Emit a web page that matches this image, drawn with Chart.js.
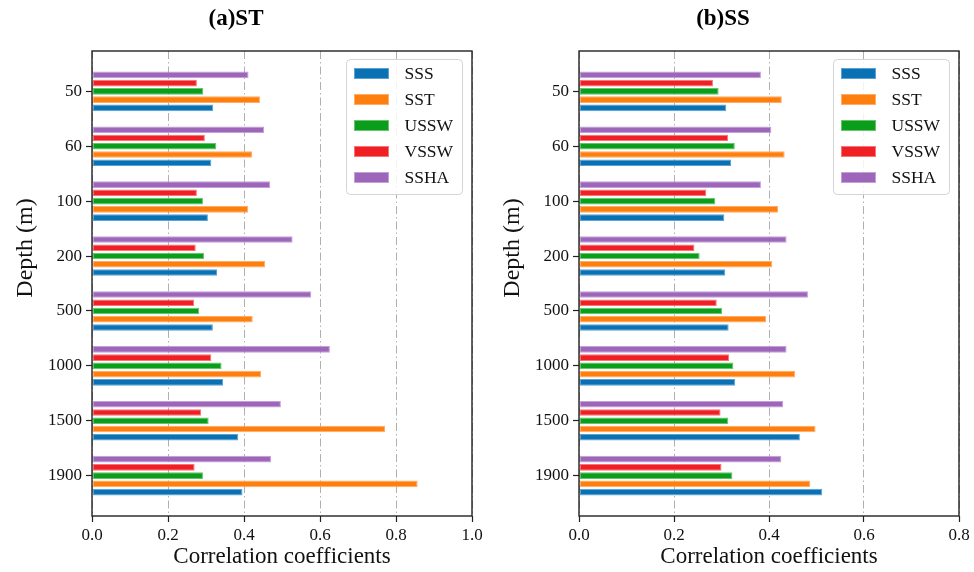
<!DOCTYPE html>
<html>
<head>
<meta charset="utf-8">
<script src="https://cdn.jsdelivr.net/npm/chart.js@4.4.1/dist/chart.umd.min.js"></script>
<style>
  html, body { margin: 0; padding: 0; background: #ffffff; }
  #wrap { position: relative; width: 974px; height: 572px; }
  canvas { position: absolute; top: 0; }
  #cST { left: 0; }
  #cSS { left: 487px; }
</style>
</head>
<body>
<div id="wrap">
  <canvas id="cST" width="487" height="572"></canvas>
  <canvas id="cSS" width="487" height="572"></canvas>
</div>
<script>
// Depth levels (m), top to bottom
const depths = ['50', '60', '100', '200', '500', '1000', '1500', '1900'];
const xTicksST = [0.0, 0.2, 0.4, 0.6, 0.8, 1.0];
const xTicksSS = [0.0, 0.2, 0.4, 0.6, 0.8];

// (a) ST: correlation coefficients per predictor
const stSSS  = [0.319, 0.314, 0.305, 0.329, 0.318, 0.345, 0.385, 0.396];
const stSST  = [0.442, 0.421, 0.411, 0.456, 0.423, 0.445, 0.771, 0.857];
const stUSSW = [0.293, 0.327, 0.292, 0.295, 0.282, 0.341, 0.307, 0.292];
const stVSSW = [0.276, 0.297, 0.276, 0.273, 0.269, 0.314, 0.287, 0.270];
const stSSHA = [0.412, 0.453, 0.469, 0.528, 0.577, 0.626, 0.497, 0.471];

// (b) SS: correlation coefficients per predictor
const ssSSS  = [0.310, 0.320, 0.306, 0.308, 0.315, 0.329, 0.465, 0.512];
const ssSST  = [0.427, 0.433, 0.419, 0.407, 0.394, 0.455, 0.498, 0.487];
const ssUSSW = [0.294, 0.328, 0.287, 0.254, 0.301, 0.325, 0.314, 0.323];
const ssVSSW = [0.282, 0.314, 0.268, 0.243, 0.290, 0.316, 0.298, 0.300];
const ssSSHA = [0.383, 0.405, 0.383, 0.437, 0.482, 0.437, 0.430, 0.426];

const seriesNames = ['SSS', 'SST', 'USSW', 'VSSW', 'SSHA'];
const seriesColors = {
  SSS:  '#0a72b4',
  SST:  '#ff7f0e',
  USSW: '#0a9e1a',
  VSSW: '#f01f24',
  SSHA: '#9d66bb'
};
const seriesEdges = {
  SSS:  '#5aa2d2',
  SST:  '#ffac66',
  USSW: '#66c470',
  VSSW: '#f77478',
  SSHA: '#c3a0d6'
};

const SERIF = "'Liberation Serif', 'DejaVu Serif', serif";

function toPoints(values) {
  return values.map((v, i) => ({ x: v, y: i }));
}

// Build datasets so that SSHA sits on top of each group and SSS at the bottom
function buildDatasets(map) {
  return seriesNames.slice().reverse().map(name => ({
    label: name,
    data: toPoints(map[name]),
    backgroundColor: seriesColors[name],
    borderColor: seriesEdges[name],
    borderWidth: 1,
    borderSkipped: false,
    categoryPercentage: 0.751,
    barPercentage: 0.8
  }));
}

// Black box around the plotting area, plus the vertical depth label
const framePlugin = {
  id: 'frame',
  afterDraw(chart) {
    const a = chart.chartArea, ctx = chart.ctx;
    ctx.save();
    ctx.strokeStyle = '#222222';
    ctx.lineWidth = 1.4;
    ctx.strokeRect(a.left, a.top, a.right - a.left, a.bottom - a.top);
    ctx.translate(26, 248);
    ctx.rotate(-Math.PI / 2);
    ctx.fillStyle = '#111111';
    ctx.font = '24px ' + SERIF;
    ctx.textAlign = 'center';
    ctx.textBaseline = 'middle';
    ctx.fillText('Depth (m)', 0, 0);
    ctx.restore();
  }
};

// Legend box in the upper-right corner of the plotting area
const boxLegendPlugin = {
  id: 'boxLegend',
  afterDraw(chart) {
    const a = chart.chartArea, ctx = chart.ctx;
    const items = chart.data.datasets.slice().reverse();
    const w = 116, h = 135;
    const x0 = a.right - 9.5 - w, y0 = a.top + 8.5;
    ctx.save();
    ctx.beginPath();
    const r = 4;
    ctx.moveTo(x0 + r, y0);
    ctx.lineTo(x0 + w - r, y0);
    ctx.quadraticCurveTo(x0 + w, y0, x0 + w, y0 + r);
    ctx.lineTo(x0 + w, y0 + h - r);
    ctx.quadraticCurveTo(x0 + w, y0 + h, x0 + w - r, y0 + h);
    ctx.lineTo(x0 + r, y0 + h);
    ctx.quadraticCurveTo(x0, y0 + h, x0, y0 + h - r);
    ctx.lineTo(x0, y0 + r);
    ctx.quadraticCurveTo(x0, y0, x0 + r, y0);
    ctx.closePath();
    ctx.fillStyle = 'rgba(255,255,255,0.85)';
    ctx.fill();
    ctx.strokeStyle = '#d4d4d4';
    ctx.lineWidth = 1;
    ctx.stroke();
    ctx.font = '17.5px ' + SERIF;
    ctx.textBaseline = 'middle';
    ctx.textAlign = 'left';
    items.forEach((ds, i) => {
      const cy = y0 + 14 + i * 26;
      ctx.fillStyle = ds.borderColor;
      ctx.fillRect(x0 + 7.5, cy - 5.5, 35, 11);
      ctx.fillStyle = ds.backgroundColor;
      ctx.fillRect(x0 + 8.5, cy - 4.5, 33, 9);
      ctx.fillStyle = '#111111';
      ctx.fillText(ds.label, x0 + 58, cy + 1);
    });
    ctx.restore();
  }
};

function makeChart(id, titleText, datasets, xMax, xTicks) {
  return new Chart(document.getElementById(id), {
    type: 'bar',
    data: { datasets },
    plugins: [framePlugin, boxLegendPlugin],
    options: {
      indexAxis: 'y',
      responsive: false,
      animation: false,
      events: [],
      layout: { padding: { left: 0, right: 15, top: 0, bottom: 0 } },
      plugins: {
        legend: { display: false },
        tooltip: { enabled: false },
        title: {
          display: true,
          text: titleText,
          color: '#000000',
          font: { family: SERIF, size: 23, weight: 'bold', lineHeight: 1.2 },
          padding: { top: 5, bottom: 18.4 }
        }
      },
      scales: {
        x: {
          type: 'linear',
          position: 'bottom',
          min: 0,
          max: xMax,
          offset: false,
          afterFit(s) { s.height = 56; },
          afterBuildTicks(s) { s.ticks = xTicks.map(v => ({ value: v })); },
          ticks: {
            color: '#111111',
            font: { family: SERIF, size: 17 },
            padding: 3,
            maxRotation: 0,
            callback: v => Number(v).toFixed(1)
          },
          border: { display: false, dash: [8, 3, 1.5, 3] },
          grid: {
            display: true,
            offset: false,
            drawOnChartArea: true,
            drawTicks: true,
            color: '#b0b0b0',
            lineWidth: 1,
            tickLength: 6,
            tickColor: '#222222',
            tickWidth: 1.2,
            tickBorderDash: [1, 0]
          },
          title: {
            display: true,
            text: 'Correlation coefficients',
            color: '#111111',
            font: { family: SERIF, size: 23, lineHeight: 1.2 },
            padding: { top: 0, bottom: 1 }
          }
        },
        y: {
          type: 'linear',
          position: 'left',
          reverse: true,
          offset: false,
          min: -0.735,
          max: 7.735,
          afterFit(s) { s.width = 92; },
          afterBuildTicks(s) { s.ticks = depths.map((_, i) => ({ value: i })); },
          ticks: {
            color: '#111111',
            font: { family: SERIF, size: 17 },
            padding: 4,
            callback: v => depths[v]
          },
          border: { display: false },
          grid: {
            display: true,
            offset: false,
            drawOnChartArea: false,
            drawTicks: true,
            tickLength: 6,
            tickColor: '#222222',
            tickWidth: 1.2
          },
          title: { display: false }
        }
      }
    }
  });
}

makeChart('cST', '(a)ST', buildDatasets({
  SSS: stSSS, SST: stSST, USSW: stUSSW, VSSW: stVSSW, SSHA: stSSHA
}), 1.0, xTicksST);

makeChart('cSS', '(b)SS', buildDatasets({
  SSS: ssSSS, SST: ssSST, USSW: ssUSSW, VSSW: ssVSSW, SSHA: ssSSHA
}), 0.8, xTicksSS);
</script>
</body>
</html>
